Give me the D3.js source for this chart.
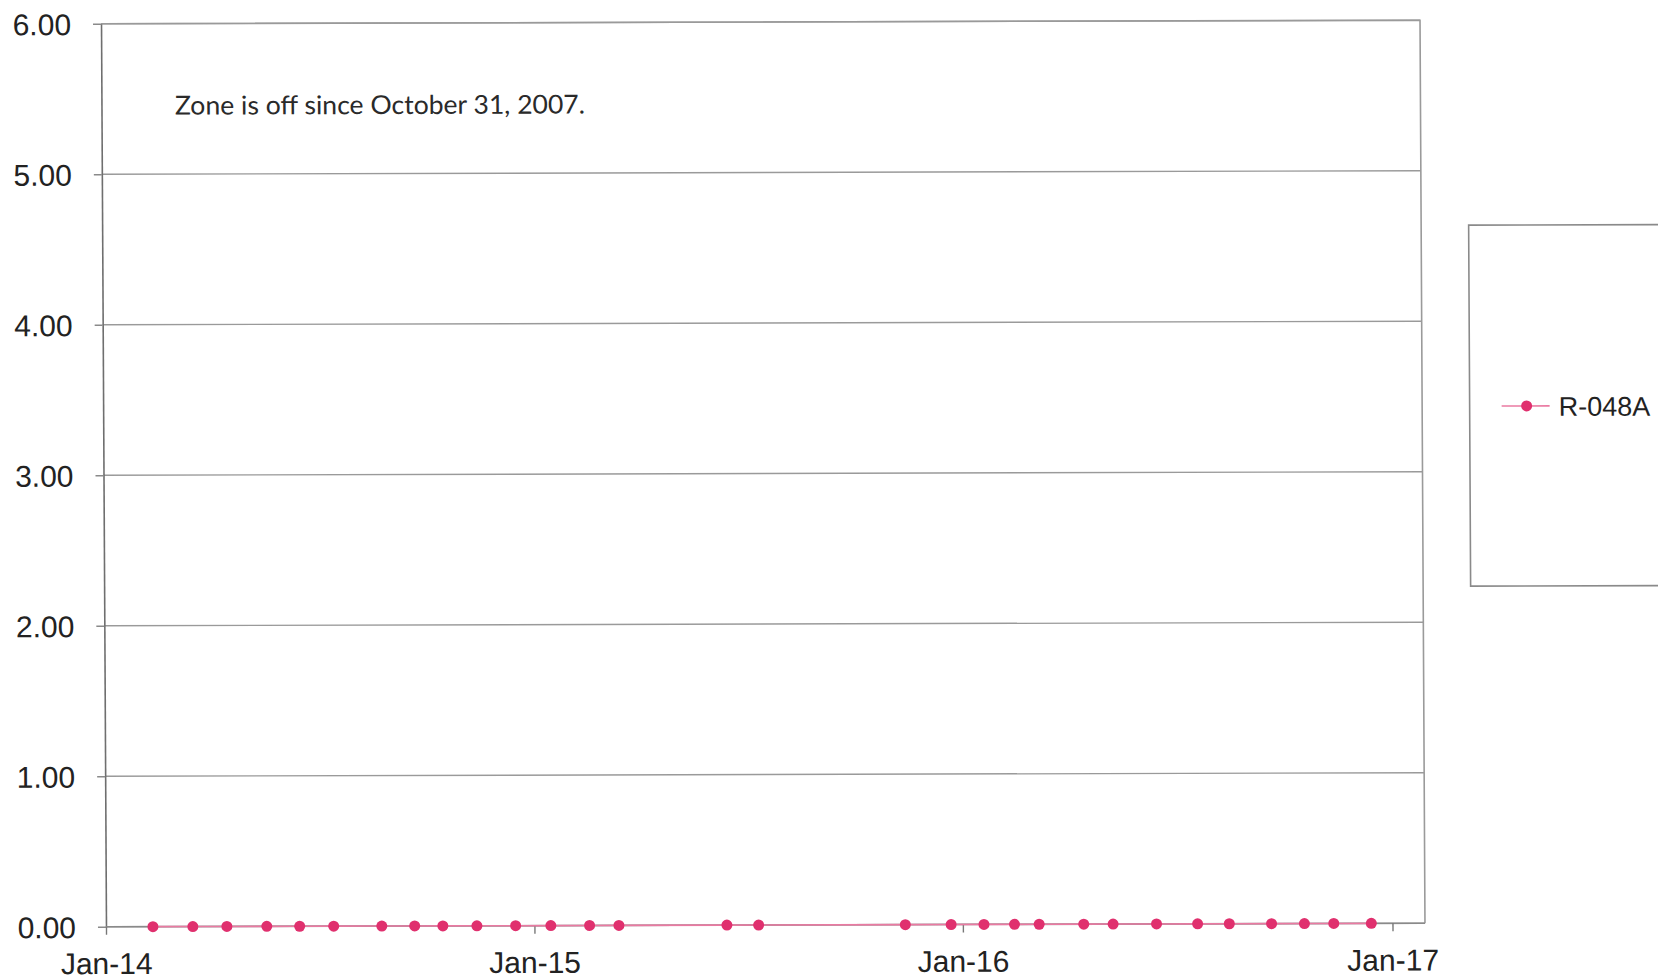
<!DOCTYPE html>
<html>
<head>
<meta charset="utf-8">
<script src="https://cdn.jsdelivr.net/npm/d3@7"></script>
<style>
  html, body { margin: 0; padding: 0; background: #fff; overflow: hidden; }
  svg { display: block; }
  .tick text { font-family: "Liberation Sans", Arial, sans-serif; fill: #222; }
</style>
</head>
<body>
<svg id="chart" width="1658" height="980"></svg>
<script>
// Sampling dates for well R-048A
const sampleDates = [
  "2014-02-10", "2014-03-16", "2014-04-14", "2014-05-18", "2014-06-15",
  "2014-07-14", "2014-08-24", "2014-09-21", "2014-10-15", "2014-11-13",
  "2014-12-16", "2015-01-15", "2015-02-17", "2015-03-14", "2015-06-14",
  "2015-07-11", "2015-11-13", "2015-12-22", "2016-01-19", "2016-02-14",
  "2016-03-06", "2016-04-13", "2016-05-08", "2016-06-14", "2016-07-19",
  "2016-08-15", "2016-09-20", "2016-10-18", "2016-11-12", "2016-12-14"
];
// Measured values (zone is off, so every reading is zero)
const r048aValues = [
  0.00, 0.00, 0.00, 0.00, 0.00, 0.00, 0.00, 0.00, 0.00, 0.00,
  0.00, 0.00, 0.00, 0.00, 0.00, 0.00, 0.00, 0.00, 0.00, 0.00,
  0.00, 0.00, 0.00, 0.00, 0.00, 0.00, 0.00, 0.00, 0.00, 0.00
];
const seriesName = "R-048A";
const yTickValues = [0, 1, 2, 3, 4, 5, 6];
const xTickDates = ["2014-01-01", "2015-01-01", "2016-01-01", "2017-01-01"];
const noteText = "Zone is off since October 31, 2007.";

const parse = d3.utcParse("%Y-%m-%d");
const data = sampleDates.map((d, i) => ({ date: parse(d), value: r048aValues[i] }));

const plotLeft = 103.5, plotRight = 1422.5, plotTop = 22, plotBottom = 925;
const pxPerDay = 1.1738;

const svg = d3.select("#chart");
// the sheet sits very slightly askew
const root = svg.append("g").attr("transform", "matrix(1,-0.0027,0.0055,1,-2.607,2.066)");

const xStart = parse(xTickDates[0]), xEnd = parse(xTickDates[xTickDates.length - 1]);
const x = d3.scaleUtc()
  .domain([xStart, xEnd])
  .range([plotLeft, plotLeft + pxPerDay * d3.utcDay.count(xStart, xEnd)]);
const y = d3.scaleLinear().domain([0, 6]).range([plotBottom, plotTop]);

const axisGrey = "#8a8a8a";

// horizontal gridlines
root.append("g")
  .selectAll("line")
  .data(yTickValues)
  .join("line")
  .attr("x1", plotLeft).attr("x2", plotRight)
  .attr("y1", d => y(d)).attr("y2", d => y(d))
  .attr("stroke", "#9a9a9a").attr("stroke-width", 1.4);

// plot area border (top and right)
root.append("path")
  .attr("d", `M${plotLeft},${plotTop}H${plotRight}V${plotBottom}`)
  .attr("fill", "none").attr("stroke", "#9a9a9a").attr("stroke-width", 1.6);

// y axis
const yAxis = root.append("g")
  .attr("transform", `translate(${plotLeft},0)`)
  .call(d3.axisLeft(y).tickValues(yTickValues).tickFormat(d3.format(".2f"))
    .tickSize(8).tickPadding(22).tickSizeOuter(0));
yAxis.select(".domain").attr("stroke", "#6f6f6f").attr("stroke-width", 1.6);
yAxis.selectAll(".tick line").attr("stroke", axisGrey).attr("stroke-width", 1.4);
yAxis.selectAll(".tick text").attr("font-size", 30).attr("dy", "0.36em");

// x axis
const xAxis = root.append("g")
  .attr("transform", `translate(0,${plotBottom})`)
  .call(d3.axisBottom(x).tickValues(xTickDates.map(parse))
    .tickFormat(d3.utcFormat("%b-%y")).tickSize(8).tickPadding(18).tickSizeOuter(0));
xAxis.select(".domain").attr("stroke", axisGrey).attr("stroke-width", 1.6)
  .attr("d", `M${plotLeft},0H${plotRight}`);
xAxis.selectAll(".tick line").attr("stroke", "#777").attr("stroke-width", 1.4);
xAxis.selectAll(".tick text").attr("font-size", 30);

// series line and markers
const lineColor = "#ea7aa2";
const dotColor = "#e0306e";
root.append("path")
  .datum(data)
  .attr("fill", "none")
  .attr("stroke", lineColor)
  .attr("stroke-width", 1.6)
  .attr("d", d3.line().x(d => x(d.date)).y(d => y(d.value)));

root.append("g")
  .selectAll("circle")
  .data(data)
  .join("circle")
  .attr("cx", d => x(d.date))
  .attr("cy", d => y(d.value))
  .attr("r", 5.5)
  .attr("fill", dotColor);

// annotation
root.append("text")
  .attr("x", 177).attr("y", 113)
  .attr("font-family", "Lato, 'Open Sans', sans-serif")
  .attr("font-size", 26)
  .attr("fill", "#2a2a2a")
  .attr("textLength", 410)
  .attr("lengthAdjust", "spacingAndGlyphs")
  .text(noteText);

// legend
const legend = root.append("g");
legend.append("rect")
  .attr("x", 1470).attr("y", 227).attr("width", 260).attr("height", 361)
  .attr("fill", "#fff").attr("stroke", "#8a8a8a").attr("stroke-width", 1.6);
legend.append("line")
  .attr("x1", 1502).attr("x2", 1550).attr("y1", 408).attr("y2", 408)
  .attr("stroke", lineColor).attr("stroke-width", 1.6);
legend.append("circle")
  .attr("cx", 1527).attr("cy", 408).attr("r", 5.5).attr("fill", dotColor);
legend.append("text")
  .attr("x", 1559).attr("y", 418)
  .attr("font-family", "'Liberation Sans', Arial, sans-serif")
  .attr("font-size", 27)
  .attr("fill", "#222")
  .text(seriesName);
</script>
</body>
</html>
